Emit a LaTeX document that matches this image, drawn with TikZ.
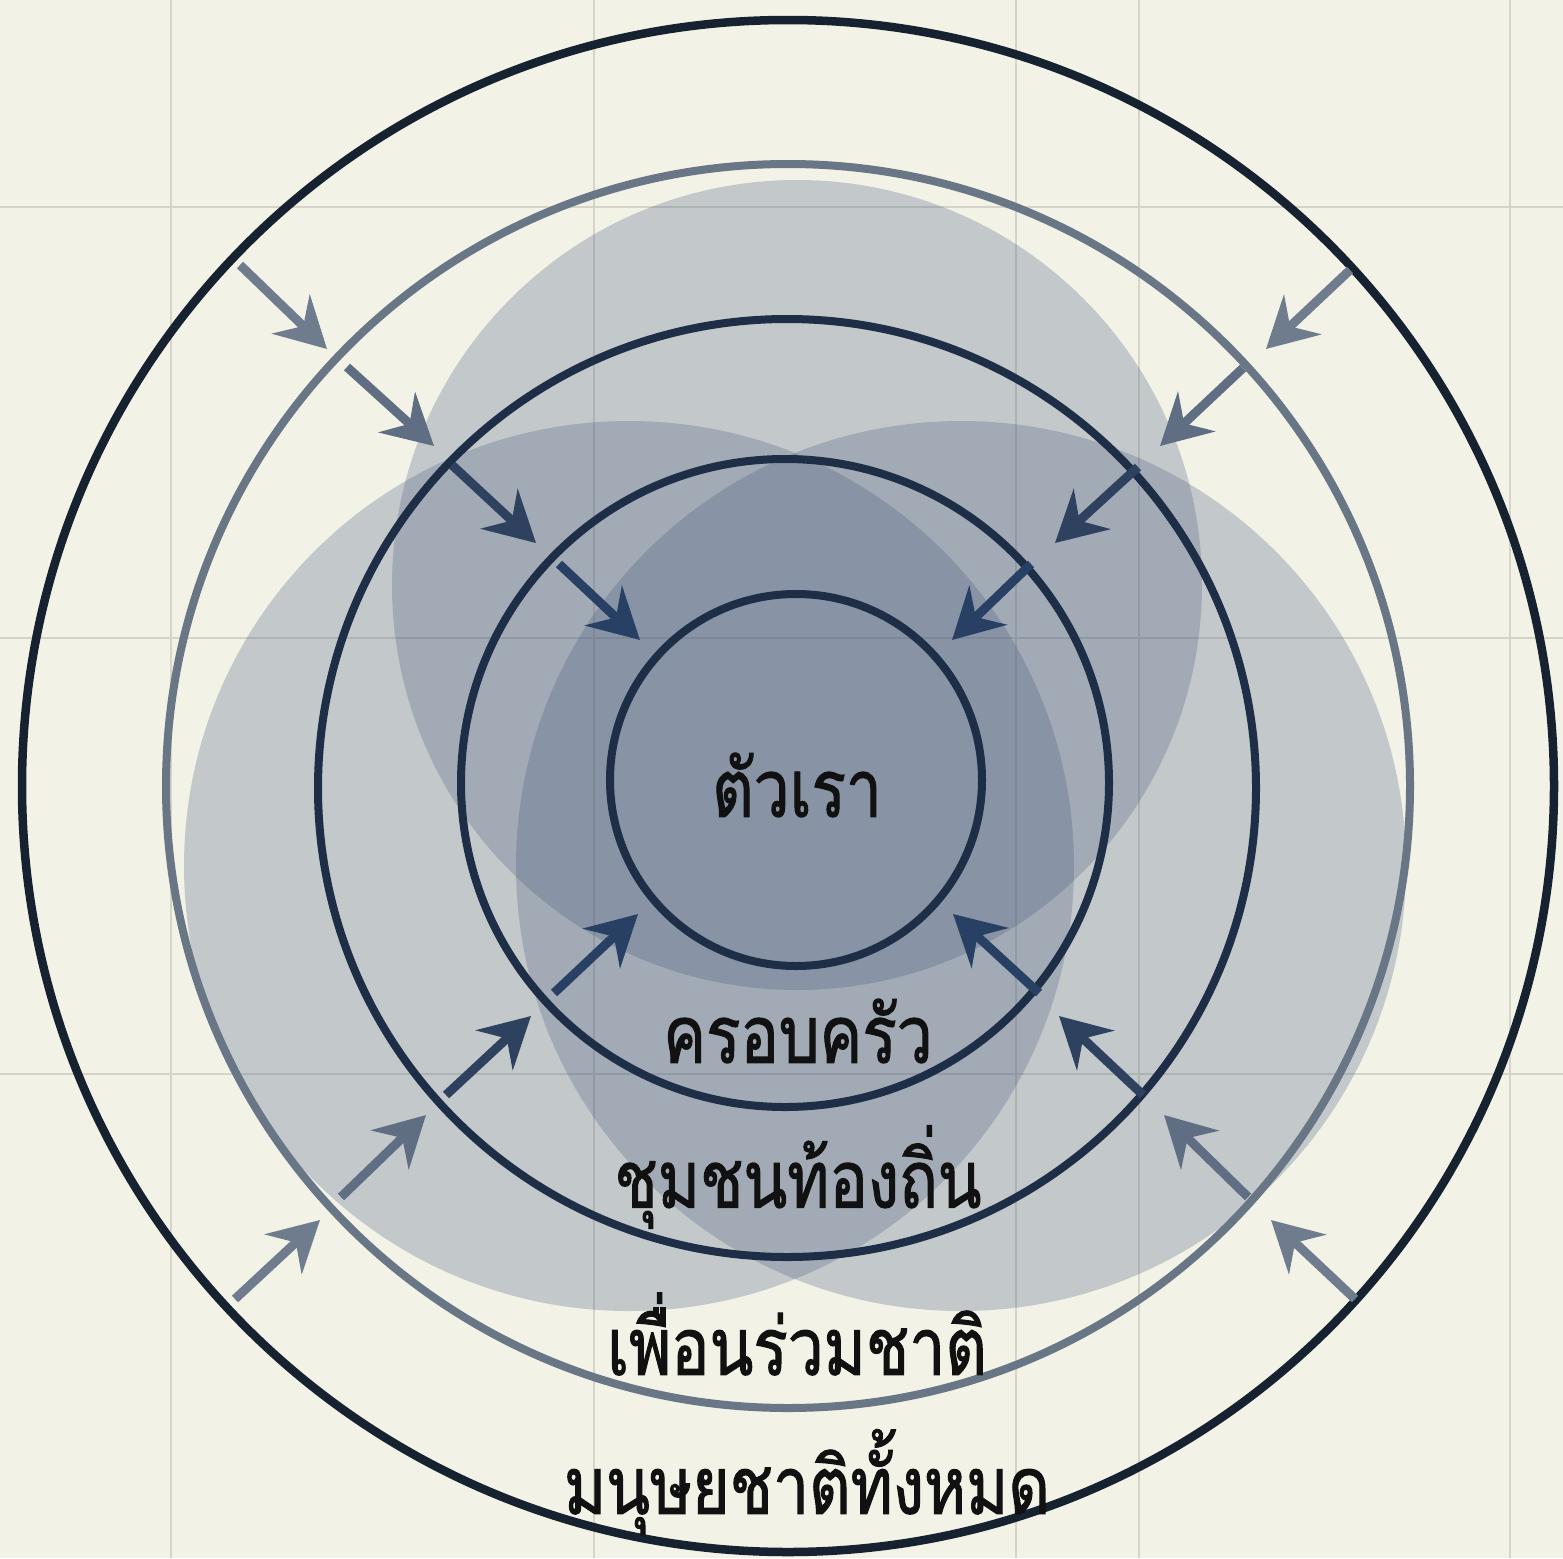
\documentclass[tikz,border=0pt]{standalone}
\usepackage{fontspec}
\newfontfamily\thai[Script=Thai, FakeStretch=0.8, FakeBold=1.3]{Loma}
\usetikzlibrary{arrows.meta}
\definecolor{bgcream}{RGB}{242,242,231}
\definecolor{gridc}{RGB}{212,212,200}
\definecolor{blobc}{RGB}{70,90,125}
\definecolor{ringdark}{RGB}{22,34,48}
\definecolor{ringnavy}{RGB}{30,46,70}
\definecolor{ringgray}{RGB}{104,118,134}
\definecolor{arrA}{RGB}{110,124,142}
\definecolor{arrB}{RGB}{95,110,130}
\definecolor{arrC}{RGB}{46,66,96}
\definecolor{arrD}{RGB}{40,64,100}
\definecolor{txt}{RGB}{17,17,17}
\tikzset{
  gridline/.style={draw=gridc, line width=2},
  blob/.style={fill=blobc, fill opacity=0.27},
  ring/.style={draw=ringnavy, line width=8},
  inarrow/.style={line width=9, -{Stealth[length=50, width=54, inset=17]}},
  lbl/.style={font=\thai\fontsize{80}{90}\selectfont, text=txt, inner sep=0}
}
\begin{document}
\begin{tikzpicture}[x=1pt,y=-1pt]
\useasboundingbox (0,0) rectangle (1563,1558);
\fill[bgcream] (0,0) rectangle (1563,1558);
% grid
\foreach \gx in {171,594,1016,1139,1510} \draw[gridline] (\gx,0) -- (\gx,1558);
\foreach \gy in {207,638,1074} \draw[gridline] (0,\gy) -- (1563,\gy);
% blobs
\fill[blob] (797,585) circle[radius=405];
\fill[blob] (629,866) circle[radius=445];
\fill[blob] (961,866) circle[radius=445];
% rings
\draw[ring, draw=ringdark, line width=8.5] (788,786) circle[radius=766];
\draw[ring, draw=ringgray] (788,786) circle[radius=622];
\draw[ring] (787,788) circle[radius=469];
\draw[ring] (785,783) circle[radius=324];
\draw[ring] (796,780) circle[radius=186];
% labels
\node[lbl] (self) at (797,785) {ตัวเรา};
\node[lbl] (family) at (798,1031) {ครอบครัว};
\node[lbl] (community) at (798,1177) {ชุมชนท้องถิ่น};
\node[lbl] (nation) at (797,1334) {เพื่อนร่วมชาติ};
\node[lbl] (humanity) at (807,1482) {มนุษยชาติทั้งหมด};
% arrow coordinates
\coordinate (ul1s) at (240,265); \coordinate (ul1e) at (327,349);
\coordinate (ul2s) at (347,367); \coordinate (ul2e) at (434,446);
\coordinate (ul3s) at (452,465); \coordinate (ul3e) at (536,543);
\coordinate (ul4s) at (559,564); \coordinate (ul4e) at (640,640);
\coordinate (ur1s) at (1350,270); \coordinate (ur1e) at (1266,349);
\coordinate (ur2s) at (1243,368); \coordinate (ur2e) at (1160,446);
\coordinate (ur3s) at (1138,467); \coordinate (ur3e) at (1055,543);
\coordinate (ur4s) at (1031,564); \coordinate (ur4e) at (952,640);
\coordinate (ll1s) at (235,1299); \coordinate (ll1e) at (320,1220);
\coordinate (ll2s) at (341,1197); \coordinate (ll2e) at (426,1115);
\coordinate (ll3s) at (446,1095); \coordinate (ll3e) at (531,1016);
\coordinate (ll4s) at (554,993); \coordinate (ll4e) at (638,914);
\coordinate (lr1s) at (1355,1299); \coordinate (lr1e) at (1271,1220);
\coordinate (lr2s) at (1248,1197); \coordinate (lr2e) at (1164,1115);
\coordinate (lr3s) at (1143,1095); \coordinate (lr3e) at (1059,1016);
\coordinate (lr4s) at (1039,993); \coordinate (lr4e) at (953,914);
\foreach \q in {ul,ur,ll,lr}{
  \draw[inarrow, draw=arrA, fill=arrA] (\q1s) -- (\q1e);
  \draw[inarrow, draw=arrB, fill=arrB] (\q2s) -- (\q2e);
  \draw[inarrow, draw=arrC, fill=arrC] (\q3s) -- (\q3e);
  \draw[inarrow, draw=arrD, fill=arrD] (\q4s) -- (\q4e);
}
\end{tikzpicture}
\end{document}
